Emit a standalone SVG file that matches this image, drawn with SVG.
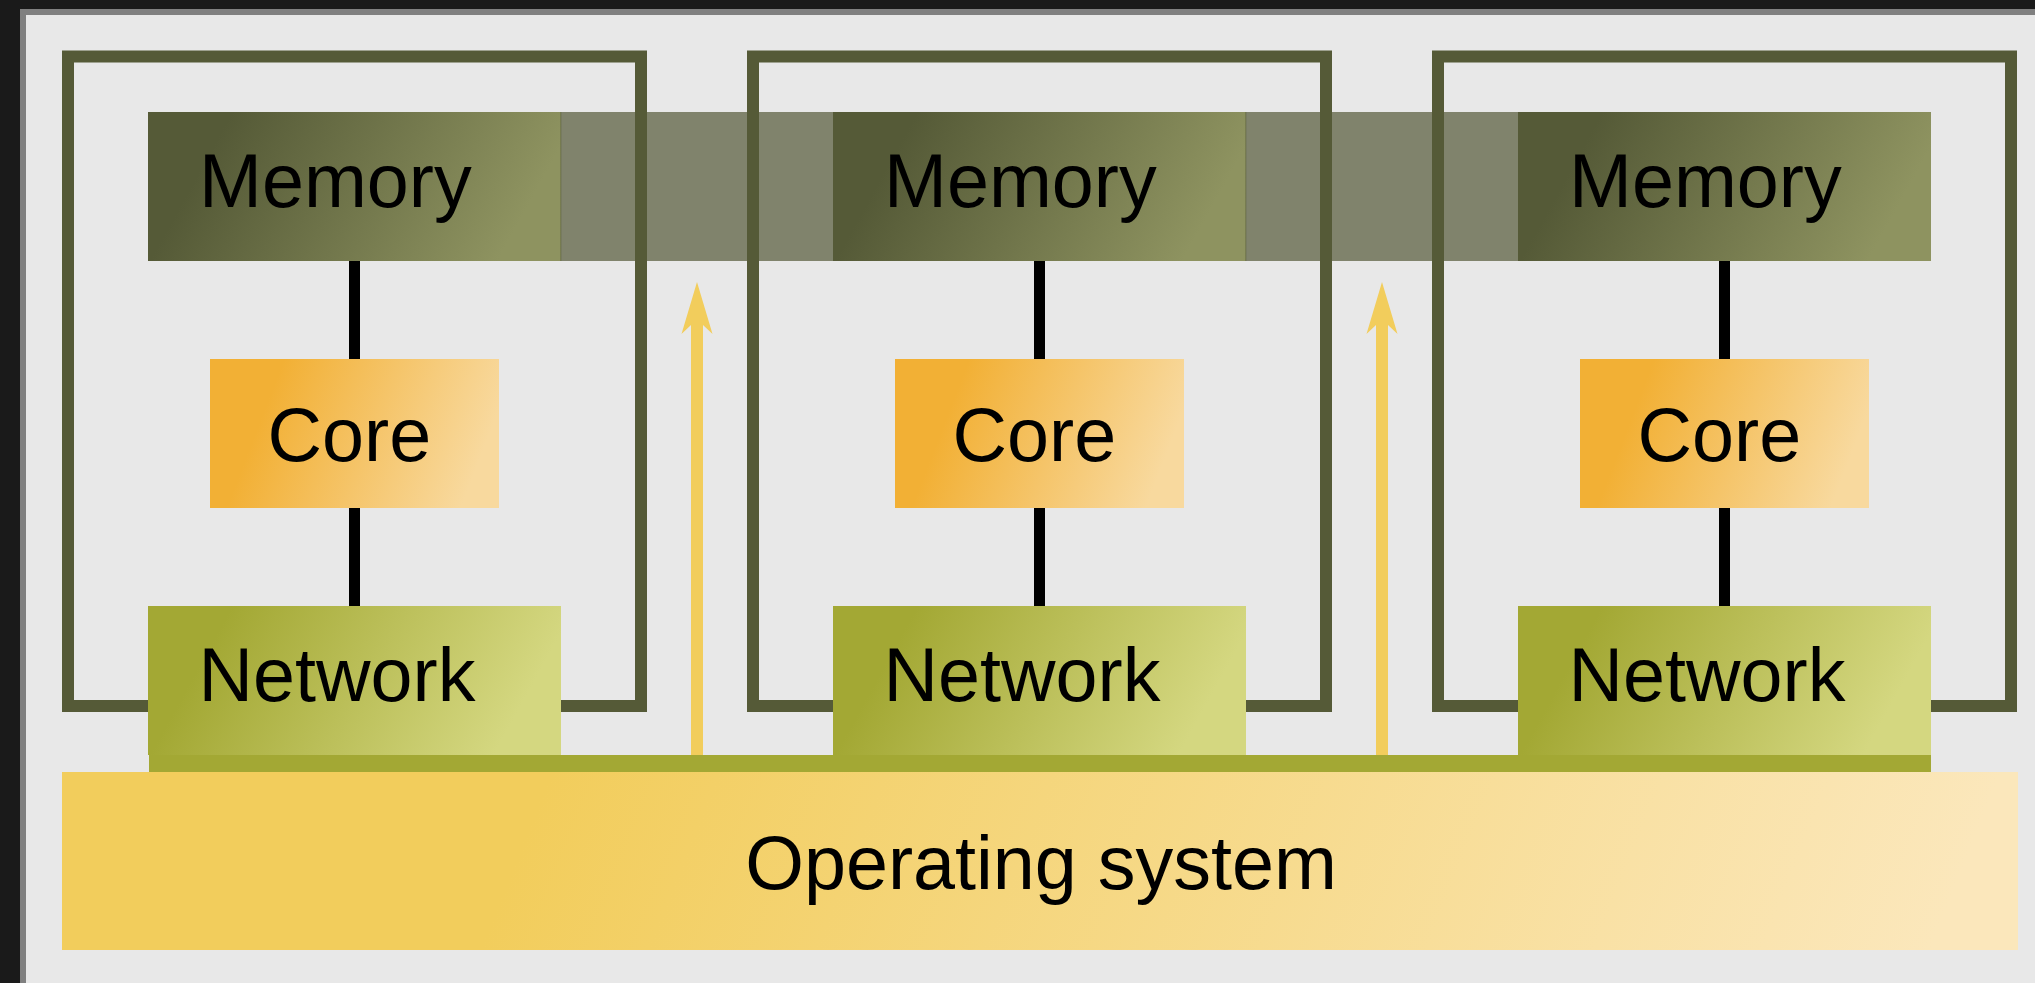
<svg xmlns="http://www.w3.org/2000/svg" width="2035" height="983" viewBox="0 0 2035 983">
  <defs>
    <linearGradient id="gMemory" x1="0" y1="0.4" x2="1" y2="0.6">
      <stop offset="0.12" stop-color="#555a37"/>
      <stop offset="0.93" stop-color="#8e9360"/>
    </linearGradient>
    <linearGradient id="gCore" x1="0" y1="0.4" x2="1" y2="0.6">
      <stop offset="0.17" stop-color="#f2b035"/>
      <stop offset="0.95" stop-color="#f8d99e"/>
    </linearGradient>
    <linearGradient id="gNetwork" x1="0" y1="0.4" x2="1" y2="0.6">
      <stop offset="0.12" stop-color="#a3a834"/>
      <stop offset="0.92" stop-color="#d4d780"/>
    </linearGradient>
    <linearGradient id="gOs" gradientUnits="userSpaceOnUse" x1="600" y1="650" x2="1850" y2="1150">
      <stop offset="0" stop-color="#f2cd5c"/>
      <stop offset="1" stop-color="#fbe7bb"/>
    </linearGradient>
    <marker id="arrowHead" markerUnits="userSpaceOnUse" viewBox="-53 -16 54 32" markerWidth="54" markerHeight="32" refX="-40" refY="0" orient="auto" overflow="visible">
      <path d="M0,0 L-52,15.5 L-43,6 L-43,-6 L-52,-15.5 Z" fill="#f2cd5c"/>
    </marker>
  </defs>
  <style>
    .frame { fill: none; stroke: #555a37; stroke-width: 12; }
    .memory { fill: url(#gMemory); }
    .core { fill: url(#gCore); }
    .network { fill: url(#gNetwork); }
    .label { font-family: "Liberation Sans", Arial, sans-serif; font-size: 75.5px; fill: #000; }
    .link { stroke: #000; stroke-width: 11; }
    .flow { stroke: #f2cd5c; stroke-width: 12; }
  </style>

  <!-- window chrome and canvas -->
  <rect x="0" y="0" width="2035" height="983" fill="#1a1a1a"/>
  <rect x="20" y="9" width="2015" height="974" fill="#808080"/>
  <rect x="26" y="15" width="2009" height="968" fill="#e8e8e8"/>

  <!-- shared memory band behind the memory blocks -->
  <rect id="memory-band" x="148" y="112" width="1783" height="149" fill="#80836c"/>
  <line x1="560.5" y1="112" x2="560.5" y2="261" stroke="#5f6440" stroke-width="1.5"/>
  <line x1="1245.5" y1="112" x2="1245.5" y2="261" stroke="#5f6440" stroke-width="1.5"/>

  <!-- node frames -->
  <g id="frame-1"><rect class="frame" x="68" y="56.5" width="573" height="649.5"/></g>
  <g id="frame-2"><rect class="frame" x="753" y="56.5" width="573" height="649.5"/></g>
  <g id="frame-3"><rect class="frame" x="1438" y="56.5" width="573" height="649.5"/></g>

  <!-- connectors -->
  <g id="connectors">
    <line class="link" x1="354.5" y1="261" x2="354.5" y2="359"/>
    <line class="link" x1="354.5" y1="508" x2="354.5" y2="606"/>
    <line class="link" x1="1039.5" y1="261" x2="1039.5" y2="359"/>
    <line class="link" x1="1039.5" y1="508" x2="1039.5" y2="606"/>
    <line class="link" x1="1724.5" y1="261" x2="1724.5" y2="359"/>
    <line class="link" x1="1724.5" y1="508" x2="1724.5" y2="606"/>
    <line class="flow" x1="697" y1="756" x2="697" y2="322" marker-end="url(#arrowHead)"/>
    <line class="flow" x1="1382" y1="756" x2="1382" y2="322" marker-end="url(#arrowHead)"/>
  </g>

  <!-- memory blocks -->
  <g id="memory-1"><rect class="memory" x="148" y="112" width="412.5" height="149"/><text class="label" x="199" y="207">Memory</text></g>
  <g id="memory-2"><rect class="memory" x="833" y="112" width="412.5" height="149"/><text class="label" x="884" y="207">Memory</text></g>
  <g id="memory-3"><rect class="memory" x="1518" y="112" width="413" height="149"/><text class="label" x="1569" y="207">Memory</text></g>

  <!-- cores -->
  <g id="core-1"><rect class="core" x="210" y="359" width="289" height="149"/><text class="label" x="267.5" y="461">Core</text></g>
  <g id="core-2"><rect class="core" x="895" y="359" width="289" height="149"/><text class="label" x="952.5" y="461">Core</text></g>
  <g id="core-3"><rect class="core" x="1580" y="359" width="289" height="149"/><text class="label" x="1637.5" y="461">Core</text></g>

  <!-- network interfaces -->
  <g id="network-1"><rect class="network" x="148" y="606" width="413" height="149"/><text class="label" x="198.5" y="701">Network</text></g>
  <g id="network-2"><rect class="network" x="833" y="606" width="413" height="149"/><text class="label" x="883.5" y="701">Network</text></g>
  <g id="network-3"><rect class="network" x="1518" y="606" width="413" height="149"/><text class="label" x="1568.5" y="701">Network</text></g>

  <!-- interconnect bus -->
  <rect id="bus" x="149" y="755" width="1782" height="17" fill="#a3a834"/>

  <!-- operating system layer -->
  <g id="operating-system">
    <rect x="62" y="772" width="1956" height="178" fill="url(#gOs)"/>
    <text class="label" x="1041" y="889" text-anchor="middle">Operating system</text>
  </g>
</svg>
